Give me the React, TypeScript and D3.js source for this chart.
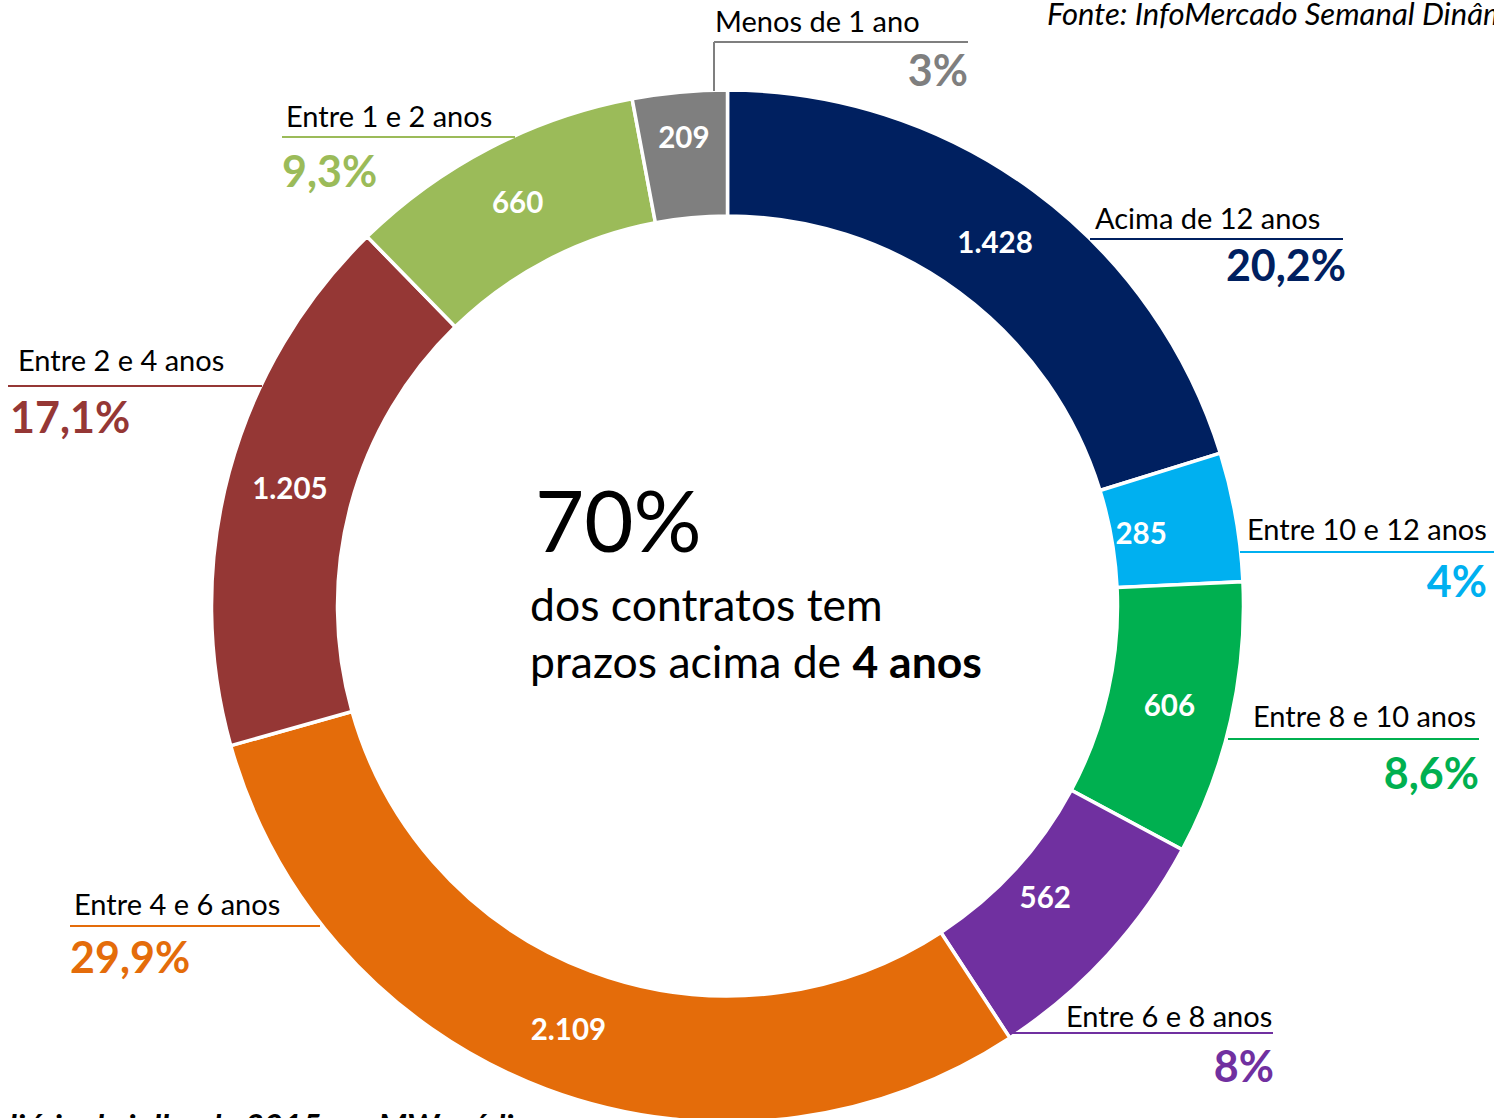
import React from 'react';
import * as d3 from 'd3';

const categories = [
  'Acima de 12 anos',
  'Entre 10 e 12 anos',
  'Entre 8 e 10 anos',
  'Entre 6 e 8 anos',
  'Entre 4 e 6 anos',
  'Entre 2 e 4 anos',
  'Entre 1 e 2 anos',
  'Menos de 1 ano',
];
const values = [1428, 285, 606, 562, 2109, 1205, 660, 209];
const valueLabels = ['1.428', '285', '606', '562', '2.109', '1.205', '660', '209'];
const percentLabels = ['20,2%', '4%', '8,6%', '8%', '29,9%', '17,1%', '9,3%', '3%'];
const colors = ['#002060', '#00B0F0', '#00B050', '#7030A0', '#E46C0A', '#953735', '#9BBB59', '#7F7F7F'];

const sourceText = 'Fonte: InfoMercado Semanal Dinâmico';
const footPrefix = 'Média di';
const footRest = 'ária de julho de 2015 em MW médios';

// label layout (styling / positions)
type LabelPos = {
  x1: number; x2: number; ly: number;
  nx: number; ny: number;
  px: number; py: number; pAnchor: 'start' | 'end';
  vert?: [number, number];
  vr: number; // radius for the in-slice value label
};
const labelLayout: LabelPos[] = [
  { x1: 1090, x2: 1343, ly: 239, nx: 1095, ny: 229, px: 1346, py: 281, pAnchor: 'end', vr: 451 },
  { x1: 1240, x2: 1494, ly: 552, nx: 1247, ny: 540, px: 1487, py: 597, pAnchor: 'end', vr: 420 },
  { x1: 1228, x2: 1479, ly: 739, nx: 1253, ny: 727, px: 1479, py: 789, pAnchor: 'end', vr: 453 },
  { x1: 1012, x2: 1273, ly: 1033, nx: 1066, ny: 1027, px: 1274, py: 1082, pAnchor: 'end', vr: 431 },
  { x1: 70, x2: 320, ly: 926, nx: 74, ny: 915, px: 70, py: 973, pAnchor: 'start', vr: 453 },
  { x1: 8, x2: 262, ly: 386, nx: 18, ny: 371, px: 10, py: 433, pAnchor: 'start', vr: 453 },
  { x1: 282, x2: 515, ly: 137, nx: 286, ny: 127, px: 282, py: 187, pAnchor: 'start', vr: 455 },
  { x1: 714, x2: 968, ly: 42, nx: 715, ny: 32, px: 968, py: 86, pAnchor: 'end', vert: [42, 91], vr: 470 },
];

const W = 1494;
const H = 1118;
const CX = 727.5;
const CY = 606;
const R_OUT = 516;
const R_IN = 390;
const FONT = 'Lato, "Noto Sans", sans-serif';

export default function App() {
  const pie = d3.pie<number>().sort(null).value((d) => d).startAngle(0).endAngle(2 * Math.PI);
  const arcs = pie(values);
  const arc = d3.arc<d3.PieArcDatum<number>>().innerRadius(R_IN).outerRadius(R_OUT);

  return (
    <svg
      width={W}
      height={H}
      style={{ position: 'absolute', left: 0, top: 0, background: '#fff' }}
      fontFamily={FONT}
    >
      <rect x={0} y={0} width={W} height={H} fill="#fff" />
      <g transform={`translate(${CX},${CY})`}>
        {arcs.map((a, i) => (
          <path key={i} d={arc(a) || ''} fill={colors[i]} stroke="#fff" strokeWidth={3.5} strokeLinejoin="miter" />
        ))}
        {arcs.map((a, i) => {
          const r = labelLayout[i].vr;
          const [x, y] = d3.arc<d3.PieArcDatum<number>>().innerRadius(r).outerRadius(r).centroid(a);
          return (
            <text key={'v' + i} x={x} y={y} dy="0.35em" textAnchor="middle" fill="#fff" fontWeight={700} fontSize={29.5}>
              {valueLabels[i]}
            </text>
          );
        })}
      </g>

      {labelLayout.map((l, i) => (
        <g key={'l' + i}>
          <line x1={l.x1} x2={l.x2} y1={l.ly} y2={l.ly} stroke={colors[i]} strokeWidth={2} />
          {l.vert && <line x1={l.x1} x2={l.x1} y1={l.vert[0]} y2={l.vert[1]} stroke={colors[i]} strokeWidth={2} />}
          <text x={l.nx} y={l.ny} fontSize={29} fill="#000">{categories[i]}</text>
          <text x={l.px} y={l.py} fontSize={43} fontWeight={700} fill={colors[i]} textAnchor={l.pAnchor}>
            {percentLabels[i]}
          </text>
        </g>
      ))}

      <text x={535} y={552} fontSize={85} fill="#000">70%</text>
      <text x={530} y={621} fontSize={44.5} fill="#000">dos contratos tem</text>
      <text x={530} y={678} fontSize={44.5} fill="#000">
        prazos acima de <tspan fontWeight={700}>4 anos</tspan>
      </text>

      <text x={1047} y={25} fontSize={31} fontStyle="italic" fill="#000">{sourceText}</text>

      <text x={25} y={1138} fontSize={33} fontStyle="italic" fontWeight={700} fill="#000" textAnchor="end">
        {footPrefix}
      </text>
      <text x={25} y={1138} fontSize={33} fontStyle="italic" fontWeight={700} fill="#000">
        {footRest}
      </text>
    </svg>
  );
}
